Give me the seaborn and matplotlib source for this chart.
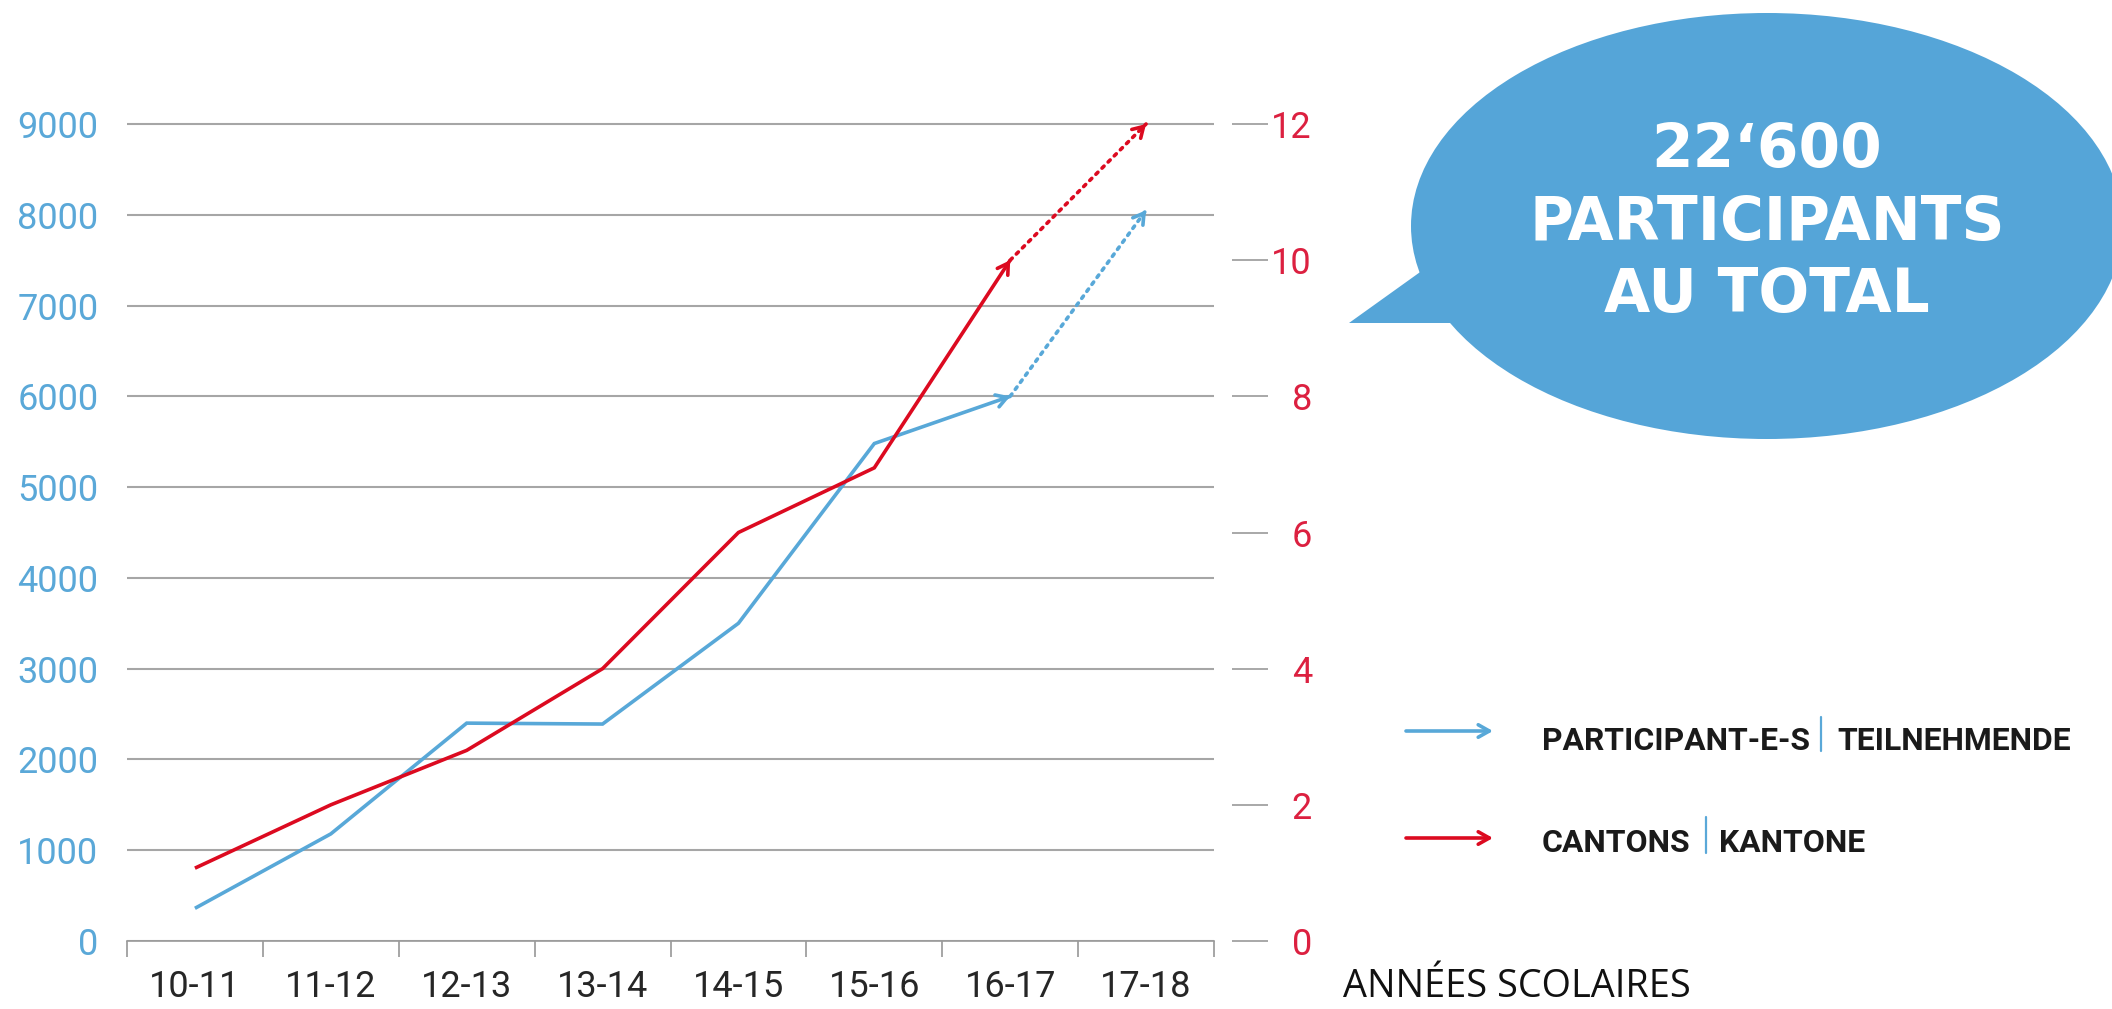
import numpy as np
import pandas as pd
import matplotlib
matplotlib.use("Agg")
import matplotlib.pyplot as plt
import seaborn as sns
from matplotlib.patches import Ellipse, Polygon

# ---------------- data ----------------
years = ["10-11", "11-12", "12-13", "13-14", "14-15", "15-16", "16-17", "17-18"]
participants = [360, 1180, 2400, 2390, 3500, 5480, 6000]      # solid part (10-11 .. 16-17)
participants_proj = 8050                                        # dotted projection 17-18
cantons = [1.07, 2.0, 2.8, 4.0, 6.0, 6.95, 10.0]               # solid part (right axis)
cantons_proj = 12.0                                             # dotted projection 17-18
left_ticks = [0, 1000, 2000, 3000, 4000, 5000, 6000, 7000, 8000, 9000]
right_ticks = [0, 2, 4, 6, 8, 10, 12]
legend_items = [("PARTICIPANT-E-S", "TEILNEHMENDE"), ("CANTONS", "KANTONE")]
bubble_lines = ["22\u2018600", "PARTICIPANTS", "AU TOTAL"]
x_title = "ANNÉES SCOLAIRES"

# ---------------- style ----------------
W, H, DPI = 2112, 1009, 100
BLUE = "#58A8D8"
RED = "#DC0A20"
LBL_BLUE = "#5AA8D8"
LBL_RED = "#DC2040"
GRID = "#A6A6A6"
BUBBLE = "#55A5D8"
RATIO = 750.0  # 9000 participants <-> 12 cantons
TICK_WEIGHT = "normal"

sns.set_theme(style="white")
plt.rcParams["font.family"] = ["Roboto", "DejaVu Sans"]

fig = plt.figure(figsize=(W / DPI, H / DPI), dpi=DPI)
fig.patch.set_facecolor("white")


def px_rect(x0, y0, x1, y1):
    return [x0 / W, 1 - y1 / H, (x1 - x0) / W, (y1 - y0) / H]


AX_L, AX_R = 127, 1214
Y0, Y9000 = 941, 124
ppu = (Y0 - Y9000) / 9000.0
YTOP = 9600
AX_T = Y0 - YTOP * ppu

ax = fig.add_axes(px_rect(AX_L, AX_T, AX_R, Y0))
ax2 = ax.twinx()
ax2.spines["right"].set_position(("outward", 13))

pos = np.arange(len(years))
n_solid = len(participants)

df_p = pd.DataFrame({"pos": pos[:n_solid], "value": participants})
df_pp = pd.DataFrame({"pos": pos[n_solid - 1:n_solid + 1],
                      "value": [participants[-1], participants_proj]})
df_c = pd.DataFrame({"pos": pos[:n_solid], "value": cantons})
df_cp = pd.DataFrame({"pos": pos[n_solid - 1:n_solid + 1],
                      "value": [cantons[-1], cantons_proj]})

LW = 2.6
sns.lineplot(data=df_p, x="pos", y="value", ax=ax, color=BLUE, lw=LW,
             solid_capstyle="butt", solid_joinstyle="miter", zorder=3)
sns.lineplot(data=df_pp, x="pos", y="value", ax=ax, color=BLUE, lw=LW,
             linestyle=(0, (0.8, 1.6)), dash_capstyle="round", zorder=3)
sns.lineplot(data=df_c, x="pos", y="value", ax=ax2, color=RED, lw=LW,
             solid_capstyle="butt", solid_joinstyle="miter", zorder=3)
sns.lineplot(data=df_cp, x="pos", y="value", ax=ax2, color=RED, lw=LW,
             linestyle=(0, (0.8, 1.6)), dash_capstyle="round", zorder=3)


def arrowhead(axis, p_from, p_to, color):
    (x0, y0), (x1, y1) = p_from, p_to
    xs, ys = x1 - 0.03 * (x1 - x0), y1 - 0.03 * (y1 - y0)
    axis.annotate("", xy=(x1, y1), xytext=(xs, ys), annotation_clip=False,
                  arrowprops=dict(arrowstyle="->,head_length=0.75,head_width=0.45",
                                  color=color, lw=LW, shrinkA=0, shrinkB=0,
                                  mutation_scale=10), zorder=4)


arrowhead(ax, (pos[n_solid - 2], participants[-2]), (pos[n_solid - 1], participants[-1]), BLUE)
arrowhead(ax, (pos[n_solid - 1], participants[-1]), (pos[n_solid], participants_proj), BLUE)
arrowhead(ax2, (pos[n_solid - 2], cantons[-2]), (pos[n_solid - 1], cantons[-1]), RED)
arrowhead(ax2, (pos[n_solid - 1], cantons[-1]), (pos[n_solid], cantons_proj), RED)

# ---------------- axes ----------------
ax.set_xlim(-0.5, len(years) - 0.5)
ax.set_ylim(0, YTOP)
ax2.set_ylim(0, YTOP / RATIO)

for s in ["left", "right", "top"]:
    ax.spines[s].set_visible(False)
ax.spines["bottom"].set_color("#9A9A9A")
ax.spines["bottom"].set_linewidth(1.2)
for s in ["left", "right", "top", "bottom"]:
    ax2.spines[s].set_visible(False)

ax.set_yticks(left_ticks, labels=[str(t) for t in left_ticks])
ax.tick_params(axis="y", length=0, pad=20.5, left=False, labelsize=26, labelcolor=LBL_BLUE)
for t in ax.get_yticklabels():
    t.set_fontweight(TICK_WEIGHT)
ax.yaxis.grid(True, color=GRID, lw=1.5)
ax.xaxis.grid(False)
ax.set_axisbelow(True)

bounds = np.arange(len(years) + 1) - 0.5
ax.set_xticks(bounds, labels=[""] * len(bounds))
ax.set_xticks(pos, labels=years, minor=True)
ax.tick_params(axis="x", which="major", bottom=True, direction="out", length=11.5,
               width=1.1, color="#8E8E8E")
ax.tick_params(axis="x", which="minor", bottom=True, length=0, pad=20,
               labelsize=26, labelcolor="#262626")
for t in ax.get_xticklabels(minor=True):
    t.set_fontweight(TICK_WEIGHT)

ax2.set_yticks(right_ticks, labels=[str(t) for t in right_ticks])
ax2.tick_params(axis="y", right=True, direction="out", length=26, width=1.2,
                color="#9A9A9A", pad=31.5, labelsize=26, labelcolor=LBL_RED)
for tk in ax2.yaxis.get_major_ticks():
    tk.label2.set_fontweight(TICK_WEIGHT)
    tk.label2.set_horizontalalignment("right")
ax2.grid(False)
for a in (ax, ax2):
    a.set_xlabel("")
    a.set_ylabel("")

# ---------------- overlay (bubble, legend, title) ----------------
ov = fig.add_axes([0, 0, 1, 1])
ov.set_xlim(0, W)
ov.set_ylim(H, 0)
ov.axis("off")

ov.add_patch(Ellipse((1767, 226), 712, 426, facecolor=BUBBLE, edgecolor="none"))
ov.add_patch(Polygon([(1349, 323), (1423, 270), (1490, 300), (1455, 323)],
                     closed=True, facecolor=BUBBLE, edgecolor="none"))

renderer = fig.canvas.get_renderer()


def fitted_size(s, target_w, **kw):
    t = ov.text(0, 0, s, fontsize=20, **kw)
    w = t.get_window_extent(renderer=renderer).width
    t.remove()
    return 20 * target_w / w


BUB_FONT = dict(family=["DejaVu Sans"], fontweight="heavy")
bsize = fitted_size(bubble_lines[1], 474, **BUB_FONT)
for line, base in zip(bubble_lines, [167, 240, 312]):
    ov.text(1767, base, line, fontsize=bsize, color="white", ha="center",
            va="baseline", **BUB_FONT)

LEG_FONT = dict(family=["Roboto", "DejaVu Sans"], fontweight="bold")
lsize = fitted_size(legend_items[0][0], 267, **LEG_FONT)
leg_rows = [
    dict(y=731, base=750, color=BLUE, x_sep=1821, x_second=1837, sep=(717, 751)),
    dict(y=838, base=852, color=RED, x_sep=1706, x_second=1719, sep=(817, 853)),
]
for (first, second), row in zip(legend_items, leg_rows):
    ov.annotate("", xy=(1493, row["y"]), xytext=(1406, row["y"]),
                arrowprops=dict(arrowstyle="->,head_length=0.8,head_width=0.45",
                                color=row["color"], lw=2.6, shrinkA=0, shrinkB=0,
                                mutation_scale=10))
    ov.text(1542, row["base"], first, fontsize=lsize, color="#1A1A1A",
            ha="left", va="baseline", **LEG_FONT)
    ov.plot([row["x_sep"], row["x_sep"]], list(row["sep"]), color=LBL_BLUE, lw=1.6)
    ov.text(row["x_second"], row["base"], second, fontsize=lsize, color="#1A1A1A",
            ha="left", va="baseline", **LEG_FONT)

TITLE_FONT = dict(family=["Open Sans", "DejaVu Sans"])
tsize = fitted_size(x_title, 347, **TITLE_FONT)
ov.text(1343, 997, x_title, fontsize=tsize, color="#111111", ha="left",
        va="baseline", **TITLE_FONT)

fig.savefig("out.png", dpi=DPI, facecolor="white")
